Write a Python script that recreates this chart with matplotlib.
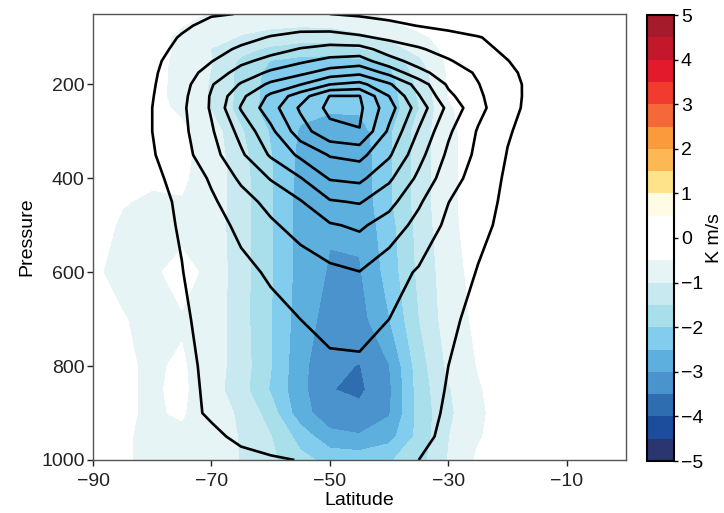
import numpy as np
import matplotlib
matplotlib.use("Agg")
import matplotlib.pyplot as plt
from matplotlib.colors import ListedColormap, BoundaryNorm
from matplotlib.cm import ScalarMappable

plt.rcParams['font.family'] = ['Liberation Sans', 'DejaVu Sans']

# Grid: latitude (deg) and pressure (hPa)
lat = [-90, -85, -80, -75, -70, -65, -60, -55, -50, -45, -40, -35, -30, -25, -20, -15, -10, -5, 0]
pressure = [50, 75, 100, 125, 150, 175, 200, 225, 250, 300, 350, 400, 450, 500,
            600, 700, 800, 850, 900, 950, 1000]

# Eddy heat flux (K m/s), one row per pressure level
heat_flux = [
    [-0.05, -0.10, -0.20, -0.35, -0.55, -0.70, -0.80, -0.85, -0.80, -0.60, -0.42, -0.30, -0.20, -0.10, -0.05, 0, 0, 0, 0],
    [-0.05, -0.15, -0.30, -0.49, -0.70, -0.85, -0.93, -0.97, -0.95, -0.80, -0.60, -0.40, -0.28, -0.15, -0.05, 0, 0, 0, 0],
    [-0.05, -0.20, -0.38, -0.58, -0.80, -1.05, -1.20, -1.30, -1.30, -1.15, -0.95, -0.60, -0.35, -0.20, -0.10, -0.03, 0, 0, 0],
    [-0.05, -0.22, -0.40, -0.55, -1.02, -1.35, -1.60, -1.75, -1.75, -1.55, -1.20, -0.85, -0.35, -0.25, -0.10, -0.03, 0, 0, 0],
    [-0.05, -0.25, -0.38, -0.60, -0.98, -1.60, -2.02, -2.15, -2.20, -2.10, -1.95, -1.10, -0.40, -0.25, -0.10, -0.03, 0, 0, 0],
    [-0.05, -0.25, -0.38, -0.62, -1.02, -1.65, -2.15, -2.28, -2.30, -2.28, -2.10, -1.30, -0.45, -0.25, -0.10, -0.03, 0, 0, 0],
    [-0.05, -0.25, -0.38, -0.62, -1.05, -1.65, -2.20, -2.32, -2.35, -2.33, -2.20, -1.40, -0.45, -0.25, -0.10, -0.03, 0, 0, 0],
    [-0.05, -0.25, -0.38, -0.63, -1.05, -1.65, -2.20, -2.35, -2.38, -2.37, -2.25, -1.45, -0.48, -0.25, -0.10, -0.03, 0, 0, 0],
    [-0.05, -0.28, -0.35, -0.60, -1.05, -1.70, -2.25, -2.38, -2.42, -2.42, -2.30, -1.52, -0.55, -0.30, -0.12, -0.03, 0, 0, 0],
    [-0.05, -0.25, -0.30, -0.40, -0.75, -1.45, -2.05, -2.55, -2.75, -2.70, -2.10, -1.30, -0.60, -0.30, -0.12, -0.03, 0, 0, 0],
    [-0.10, -0.30, -0.35, -0.40, -0.70, -1.35, -1.98, -2.62, -2.85, -2.80, -2.10, -1.30, -0.60, -0.30, -0.12, -0.03, 0, 0, 0],
    [-0.15, -0.42, -0.45, -0.45, -0.68, -1.30, -1.95, -2.65, -2.90, -2.80, -2.10, -1.30, -0.60, -0.30, -0.12, -0.03, 0, 0, 0],
    [-0.30, -0.48, -0.55, -0.52, -0.70, -1.30, -1.95, -2.70, -2.92, -2.85, -2.10, -1.30, -0.60, -0.30, -0.12, -0.03, 0, 0, 0],
    [-0.35, -0.55, -0.60, -0.70, -0.72, -1.30, -1.95, -2.70, -2.95, -2.90, -2.20, -1.35, -0.62, -0.30, -0.12, -0.03, 0, 0, 0],
    [-0.45, -0.60, -0.60, -0.30, -0.65, -1.30, -1.95, -2.70, -3.05, -3.05, -2.30, -1.40, -0.72, -0.32, -0.12, -0.03, 0, 0, 0],
    [-0.30, -0.48, -0.60, -0.55, -0.70, -1.30, -1.98, -2.75, -3.20, -3.20, -2.52, -1.52, -0.75, -0.40, -0.15, -0.03, 0, 0, 0],
    [-0.20, -0.45, -0.55, -0.45, -0.75, -1.25, -1.98, -2.85, -3.40, -3.52, -3.02, -1.75, -0.90, -0.48, -0.20, -0.05, 0, 0, 0],
    [-0.20, -0.45, -0.55, -0.42, -0.78, -1.30, -2.05, -2.85, -3.48, -3.60, -3.10, -1.80, -1.05, -0.55, -0.25, -0.05, 0, 0, 0],
    [-0.20, -0.45, -0.55, -0.45, -0.85, -1.05, -1.75, -2.80, -3.30, -3.35, -3.05, -1.85, -1.10, -0.60, -0.25, -0.05, 0, 0, 0],
    [-0.20, -0.45, -0.60, -0.60, -0.85, -1.02, -1.48, -2.20, -2.85, -2.95, -2.70, -1.85, -1.02, -0.55, -0.25, -0.05, 0, 0, 0],
    [-0.20, -0.45, -0.60, -0.65, -0.80, -1.02, -1.40, -1.85, -2.15, -2.20, -2.05, -1.70, -0.98, -0.42, -0.20, -0.05, 0, 0, 0],
]

# Zonal-mean zonal wind (m/s), one row per pressure level
zonal_wind = [
    [0, 1.0, 2.3, 3.5, 4.7, 5.1, 5.3, 5.3, 5.0, 4.5, 3.8, 3.2, 2.6, 2.0, 1.5, 1.0, 0.5, 0.2, 0],
    [0, 1.2, 2.8, 4.4, 6.0, 7.2, 7.9, 8.1, 7.8, 7.0, 6.0, 4.9, 4.0, 3.2, 2.5, 1.7, 0.9, 0.4, 0],
    [0, 1.5, 3.4, 5.3, 6.9, 8.6, 10.3, 11.8, 12.3, 10.8, 9.0, 7.7, 6.4, 5.2, 3.8, 2.4, 1.2, 0.5, 0],
    [0, 1.8, 3.8, 5.9, 8.4, 10.7, 13.1, 15.3, 16.6, 16.8, 12.9, 10.5, 8.3, 6.2, 4.2, 2.6, 1.3, 0.5, 0],
    [0, 2.0, 4.2, 6.7, 9.8, 13.8, 16.7, 19.1, 21.5, 22.3, 16.7, 13.2, 10.4, 7.8, 5.1, 3.0, 1.5, 0.5, 0],
    [0, 2.2, 4.4, 7.5, 12.0, 17.0, 20.9, 23.8, 27.2, 28.8, 23.6, 16.4, 12.6, 9.4, 5.9, 3.3, 1.6, 0.6, 0],
    [0, 2.3, 4.6, 8.0, 14.6, 20.5, 26.1, 29.8, 35.0, 36.5, 30.7, 23.0, 14.2, 10.2, 6.4, 3.5, 1.6, 0.6, 0],
    [0, 2.4, 4.8, 8.6, 15.5, 23.8, 31.1, 37.7, 45.2, 45.2, 35.0, 25.4, 16.2, 10.8, 6.7, 3.2, 1.6, 0.6, 0],
    [0, 2.5, 5.0, 9.0, 15.6, 25.4, 32.8, 40.7, 46.3, 46.0, 37.0, 27.7, 18.7, 11.4, 6.6, 3.0, 1.5, 0.5, 0],
    [0, 2.5, 5.0, 8.7, 14.4, 21.6, 28.7, 37.8, 43.5, 44.8, 34.1, 24.6, 15.8, 9.6, 5.4, 3.0, 1.5, 0.5, 0],
    [0, 2.7, 4.6, 8.1, 13.1, 19.2, 25.6, 31.0, 35.4, 36.5, 30.7, 21.7, 14.0, 8.9, 4.8, 2.8, 1.4, 0.5, 0],
    [0, 2.8, 4.2, 6.2, 10.7, 15.9, 20.3, 24.7, 30.4, 31.2, 25.9, 18.9, 12.2, 7.8, 4.3, 2.6, 1.3, 0.5, 0],
    [0, 2.9, 4.0, 5.5, 9.2, 13.0, 16.5, 19.6, 24.5, 25.4, 21.6, 15.7, 10.1, 6.6, 4.2, 2.6, 1.3, 0.5, 0],
    [0, 3.0, 3.9, 5.3, 8.1, 11.1, 14.2, 16.9, 19.5, 20.8, 17.8, 13.4, 8.9, 6.0, 4.0, 2.5, 1.3, 0.5, 0],
    [0, 3.0, 3.8, 4.9, 6.9, 8.8, 10.6, 12.3, 13.9, 14.9, 12.0, 9.5, 7.2, 4.8, 3.5, 2.3, 1.2, 0.5, 0],
    [0, 2.8, 3.7, 4.6, 5.9, 7.3, 8.7, 10.0, 11.3, 11.8, 10.0, 7.8, 5.7, 4.0, 3.0, 2.0, 1.0, 0.4, 0],
    [0, 2.6, 3.5, 4.3, 5.6, 6.8, 7.9, 8.7, 9.2, 9.2, 8.3, 6.7, 5.0, 3.6, 2.7, 1.8, 0.9, 0.4, 0],
    [0, 2.5, 3.4, 4.2, 5.5, 6.6, 7.5, 8.2, 8.6, 8.6, 7.8, 6.4, 4.8, 3.5, 2.6, 1.7, 0.9, 0.4, 0],
    [0, 2.4, 3.3, 4.1, 5.4, 6.4, 7.2, 7.8, 8.1, 8.1, 7.4, 6.1, 4.6, 3.4, 2.5, 1.6, 0.8, 0.3, 0],
    [0, 2.2, 3.0, 3.7, 4.4, 5.6, 6.6, 7.2, 7.5, 7.4, 6.8, 5.8, 4.3, 3.2, 2.4, 1.5, 0.8, 0.3, 0],
    [0, 2.0, 2.7, 3.2, 3.7, 4.2, 4.6, 5.1, 5.8, 6.0, 5.6, 5.0, 4.0, 3.0, 2.2, 1.4, 0.7, 0.3, 0],
]

flux_levels = np.arange(-5, 5.01, 0.5)
wind_levels = np.arange(5, 50, 5)
flux_ticks = np.arange(-5, 6, 1)
lat_ticks = [-90, -70, -50, -30, -10]
pres_ticks = [200, 400, 600, 800, 1000]

flux_colors = [
    '#2a3572', '#1b4d9c', '#2f6db1', '#4a93cc', '#5db0de',
    '#82cdee', '#a8dfeb', '#c9e9f0', '#e6f4f6', '#ffffff',
    '#ffffff', '#fffbe5', '#fee38a', '#fdb855', '#fa9a3c',
    '#f4683a', '#f03b2e', '#e31a2c', '#c3182c', '#a51b2b',
]
cmap = ListedColormap(flux_colors)
norm = BoundaryNorm(flux_levels, cmap.N)

LAT, PRES = np.meshgrid(lat, pressure)
F = np.array(heat_flux)
U = np.array(zonal_wind)

fig = plt.figure(figsize=(7.24, 5.13), dpi=100)
ax = fig.add_axes([93 / 724, 1 - 460 / 513, 533 / 724, 446 / 513])

ax.contourf(LAT, PRES, F, levels=flux_levels, cmap=cmap, norm=norm)
ax.contour(LAT, PRES, U, levels=wind_levels, colors='black', linewidths=1.9)

ax.set_xlim(-90, 0)
ax.set_ylim(1000, 50)
ax.set_xticks(lat_ticks)
ax.set_yticks(pres_ticks)
ax.tick_params(direction='out', length=4, width=1, labelsize=14, colors='#222222', pad=2)
ax.tick_params(axis='x', pad=5)
for s in ax.spines.values():
    s.set_color('#555555')
    s.set_linewidth(1.0)
ax.set_xlabel('Latitude', fontsize=14, labelpad=2)
ax.set_ylabel('Pressure', fontsize=14, labelpad=4)

cax = fig.add_axes([647 / 724, 1 - 461 / 513, 27 / 724, 446 / 513])
sm = ScalarMappable(norm=norm, cmap=cmap)
cb = fig.colorbar(sm, cax=cax, ticks=flux_ticks, boundaries=flux_levels)
cb.outline.set_linewidth(1.5)
cb.outline.set_edgecolor('black')
cax.minorticks_off()
cax.tick_params(direction='out', length=3, width=1, labelsize=14, pad=2)
cb.set_label('K m/s', fontsize=14, labelpad=2)

fig.savefig('out.png', dpi=100)
